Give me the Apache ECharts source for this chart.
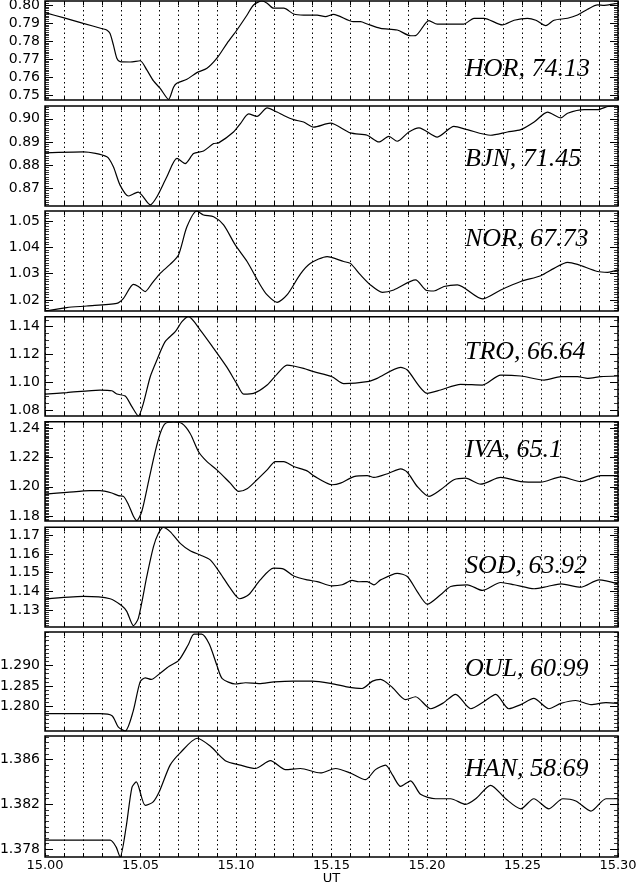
<!DOCTYPE html>
<html><head><meta charset="utf-8">
<script src="https://cdn.jsdelivr.net/npm/echarts@6/dist/echarts.min.js"></script>
<style>html,body{margin:0;padding:0;background:#fff}#c{width:638px;height:883px}</style>
</head><body><div id="c"></div>
<script>
// ---------------- DATA ----------------
const stationNames = ['HOR, 74.13','BJN, 71.45','NOR, 67.73','TRO, 66.64','IVA, 65.1','SOD, 63.92','OUL, 60.99','HAN, 58.69'];

const horT = [15.000,15.010,15.020,15.030,15.0323,15.034,15.0358,15.0376,15.0393,15.0446,15.0498,15.0533,15.0568,15.0603,15.0647,15.0673,15.069,15.0743,15.0795,15.0848,15.090,15.0953,15.1005,15.1058,15.1092,15.1136,15.1163,15.1197,15.125,15.1302,15.1354,15.1425,15.1468,15.151,15.1615,15.1652,15.1687,15.1757,15.1844,15.1914,15.194,15.201,15.2054,15.2193,15.2246,15.2298,15.2395,15.2456,15.2526,15.257,15.2622,15.2665,15.2736,15.2788,15.2841,15.2893,15.2928,15.2979,15.300];
const horV = [0.7957,0.7928,0.7898,0.7868,0.7861,0.7843,0.7778,0.7704,0.7685,0.7683,0.7690,0.7639,0.7578,0.7537,0.7476,0.7543,0.7565,0.7587,0.7624,0.7648,0.7704,0.7787,0.7861,0.7944,0.8000,0.8022,0.8010,0.7982,0.7982,0.7950,0.7944,0.7944,0.7935,0.7948,0.7907,0.7907,0.7894,0.7870,0.7861,0.7829,0.7830,0.7913,0.7893,0.7894,0.7926,0.7926,0.7889,0.7915,0.7926,0.7915,0.7885,0.7915,0.7926,0.7944,0.7976,0.8000,0.7998,0.8006,0.8008];

const bjnT = [15.000,15.0201,15.0324,15.0358,15.0393,15.0437,15.0463,15.0489,15.0507,15.0551,15.0586,15.0638,15.0691,15.0734,15.0778,15.083,15.0883,15.0909,15.0987,15.1023,15.1066,15.111,15.1163,15.1215,15.125,15.1302,15.1354,15.1407,15.1494,15.1599,15.1687,15.1748,15.18,15.1844,15.1905,15.1958,15.2054,15.2141,15.2211,15.2333,15.2421,15.2491,15.2561,15.2631,15.2701,15.2736,15.2823,15.2893,15.2946,15.300];
const bjnV = [0.8853,0.8857,0.8836,0.8793,0.8714,0.8667,0.8676,0.8684,0.8671,0.8629,0.8664,0.8750,0.8829,0.8807,0.8850,0.8861,0.8893,0.8896,0.8943,0.8979,0.9021,0.9010,0.9047,0.9029,0.9014,0.8996,0.8986,0.8964,0.8981,0.8939,0.8929,0.8900,0.8924,0.8903,0.8943,0.8961,0.8921,0.8967,0.8953,0.8929,0.8943,0.8953,0.8986,0.9029,0.9004,0.9024,0.9039,0.9039,0.9053,0.9057];

const norT = [15.000,15.0114,15.0219,15.0376,15.0411,15.0463,15.0489,15.0524,15.056,15.0603,15.0655,15.0699,15.0743,15.0795,15.083,15.0883,15.0935,15.0996,15.1058,15.1127,15.1163,15.1215,15.1267,15.1337,15.139,15.1477,15.1564,15.1599,15.1652,15.1704,15.1766,15.1826,15.194,15.1993,15.2036,15.2089,15.2159,15.229,15.2386,15.2491,15.2596,15.2665,15.2736,15.2788,15.2893,15.2946,15.300];
const norV = [1.0158,1.0171,1.0177,1.0187,1.0206,1.0259,1.0251,1.0232,1.0263,1.0301,1.0335,1.0371,1.0478,1.0538,1.0523,1.0516,1.0485,1.0409,1.0346,1.0257,1.0219,1.0191,1.0219,1.0298,1.0339,1.0365,1.0346,1.0339,1.0295,1.0257,1.0229,1.0238,1.0276,1.0238,1.0234,1.0251,1.0257,1.0204,1.0238,1.0270,1.0292,1.0320,1.0343,1.0335,1.0308,1.0305,1.0314];

const troT = [15.000,15.0114,15.0288,15.035,15.0376,15.042,15.0455,15.0489,15.0515,15.0551,15.0586,15.0629,15.0682,15.0717,15.0751,15.0813,15.0883,15.0953,15.1005,15.104,15.1092,15.1163,15.1215,15.1267,15.1302,15.1354,15.1407,15.1503,15.1564,15.1687,15.1739,15.1862,15.1897,15.2002,15.2071,15.2176,15.229,15.2386,15.2491,15.2613,15.2701,15.2788,15.2841,15.291,15.300];
const troV = [1.0915,1.0925,1.0944,1.0939,1.0915,1.0901,1.0824,1.0757,1.0848,1.1040,1.1160,1.1292,1.1364,1.1436,1.1472,1.1376,1.1244,1.1107,1.0987,1.0915,1.0920,1.0980,1.1059,1.1124,1.1117,1.1100,1.1076,1.1040,1.0990,1.1004,1.1028,1.1107,1.1088,1.0920,1.0944,1.0985,1.0980,1.1052,1.1045,1.1016,1.1040,1.1040,1.1028,1.1040,1.1045];

const ivaT = [15.000,15.0114,15.0236,15.0288,15.035,15.0384,15.0411,15.0437,15.0463,15.0481,15.0507,15.0542,15.0577,15.0603,15.0629,15.0673,15.0717,15.076,15.0804,15.0848,15.090,15.097,15.1014,15.1058,15.111,15.1163,15.1206,15.125,15.1302,15.1372,15.1407,15.1503,15.1547,15.1617,15.1687,15.1722,15.180,15.1862,15.1897,15.1949,15.201,15.2071,15.2141,15.2202,15.2281,15.2386,15.2491,15.2596,15.2701,15.2805,15.291,15.300];
const ivaV = [1.1950,1.1961,1.1973,1.1973,1.1957,1.1939,1.1934,1.1877,1.1798,1.1768,1.1832,1.2036,1.2241,1.2366,1.2434,1.2445,1.2434,1.2366,1.2241,1.2173,1.2116,1.2025,1.1968,1.1986,1.2048,1.2116,1.2173,1.2173,1.2139,1.2109,1.2075,1.2014,1.2025,1.2070,1.2077,1.2064,1.2093,1.2123,1.2100,1.2002,1.1934,1.1980,1.2048,1.2059,1.2018,1.2064,1.2036,1.2032,1.2068,1.2036,1.2077,1.2077];

const sodT = [15.000,15.0201,15.0341,15.0402,15.0428,15.0463,15.0489,15.0533,15.0568,15.0594,15.062,15.0655,15.0708,15.076,15.0813,15.0865,15.0918,15.097,15.1019,15.1066,15.1127,15.1197,15.125,15.1302,15.1372,15.1425,15.1503,15.1556,15.1608,15.1643,15.1687,15.1722,15.1757,15.1844,15.1897,15.1949,15.2002,15.2071,15.2124,15.2211,15.229,15.2386,15.2456,15.2561,15.2631,15.2701,15.2805,15.2901,15.300];
const sodV = [1.1360,1.1374,1.1362,1.1325,1.1295,1.1219,1.1259,1.1480,1.1638,1.1709,1.1741,1.1718,1.1656,1.1617,1.1594,1.1568,1.1497,1.1418,1.1362,1.1383,1.1462,1.1524,1.1519,1.1483,1.1462,1.1453,1.1430,1.1436,1.1459,1.1452,1.1453,1.1436,1.1462,1.1497,1.1480,1.1400,1.1333,1.1383,1.1427,1.1436,1.1406,1.1448,1.1436,1.1415,1.1427,1.1441,1.1423,1.1462,1.1441];

const oulT = [15.000,15.0288,15.0351,15.0383,15.042,15.0461,15.0498,15.0525,15.0556,15.060,15.065,15.070,15.075,15.078,15.082,15.086,15.090,15.0928,15.0996,15.105,15.112,15.120,15.130,15.140,15.150,15.158,15.166,15.1715,15.1757,15.182,15.1888,15.194,15.2019,15.2082,15.215,15.2229,15.2297,15.236,15.2428,15.2491,15.2559,15.2638,15.2701,15.2779,15.2858,15.2937,15.300];
const oulV = [1.2783,1.2783,1.2778,1.2751,1.2741,1.2788,1.2860,1.2870,1.2866,1.2880,1.2898,1.2912,1.2950,1.2976,1.2976,1.2952,1.2900,1.2868,1.2855,1.2858,1.2856,1.2860,1.2862,1.2862,1.2856,1.2848,1.2844,1.2862,1.2866,1.2846,1.2817,1.2824,1.2795,1.2808,1.2830,1.2795,1.2812,1.2830,1.2795,1.2805,1.2820,1.2795,1.2808,1.2815,1.2805,1.2810,1.2808];

const hanT = [15.000,15.0341,15.0372,15.0393,15.0425,15.0455,15.0478,15.0525,15.0565,15.060,15.0655,15.0708,15.0797,15.0865,15.0944,15.1023,15.1101,15.118,15.1259,15.1337,15.1442,15.1521,15.1599,15.1678,15.173,15.1783,15.182,15.1862,15.1914,15.1966,15.2045,15.2124,15.2202,15.2255,15.2333,15.2412,15.2491,15.2559,15.2638,15.2711,15.2779,15.2858,15.2937,15.300];
const hanV = [1.3788,1.3788,1.3782,1.3773,1.3800,1.3835,1.3840,1.3819,1.3822,1.3832,1.3855,1.3866,1.3879,1.3872,1.3859,1.3855,1.3852,1.3859,1.3851,1.3852,1.3848,1.3852,1.3848,1.3842,1.3851,1.3855,1.3846,1.3836,1.3841,1.3829,1.3825,1.3825,1.3820,1.3825,1.3837,1.3825,1.3816,1.3825,1.3816,1.3825,1.3823,1.3814,1.3825,1.3825];

const yMin = [0.7472,0.8624,1.0158,1.0757,1.1765,1.1212,1.2741,1.3773];
const yMax = [0.8022,0.9055,1.0538,1.1472,1.2447,1.1741,1.2981,1.3881];

const yTickLabels = [
  [0.75,0.76,0.77,0.78,0.79,0.80],
  [0.87,0.88,0.89,0.90],
  [1.02,1.03,1.04,1.05],
  [1.08,1.10,1.12,1.14],
  [1.18,1.20,1.22,1.24],
  [1.13,1.14,1.15,1.16,1.17],
  [1.280,1.285,1.290],
  [1.378,1.382,1.386]
];
const xTickLabels = [15.00,15.05,15.10,15.15,15.20,15.25,15.30];

// ---------------- LAYOUT ----------------
const seriesT = [horT,bjnT,norT,troT,ivaT,sodT,oulT,hanT];
const seriesV = [horV,bjnV,norV,troV,ivaV,sodV,oulV,hanV];
const panelTop = [1,106,211,316.7,421.7,527.3,632,736];
const panelBottom = [100,206,311,416,521,627,731,857];
const labelOffset = [55,40,15,22,15,26,24,20];
const minorStep = [0.001,0.001,0.001,0.005,0.001,0.001,0.001,0.0005];
const decimals = [2,2,2,2,2,2,3,3];
const LEFT = 45, RIGHT = 20;

function stepsBetween(lo, hi, step) {
  const out = [];
  const k0 = Math.ceil(lo / step - 1e-9), k1 = Math.floor(hi / step + 1e-9);
  for (let k = k0; k <= k1; k++) out.push(+(k * step).toFixed(6));
  return out;
}
const xMinor = stepsBetween(15.0, 15.3, 0.01);

const grids = [], xAxes = [], yAxes = [], series = [], graphics = [];
const tickFont = {fontFamily: 'DejaVu Sans', fontSize: 14, color: '#000'};

for (let i = 0; i < 8; i++) {
  const last = i === 7;
  grids.push({left: LEFT, right: RIGHT, top: panelTop[i], height: panelBottom[i] - panelTop[i],
    outerBoundsMode: 'none', containLabel: false,
    show: true, borderColor: '#000', borderWidth: 1.5, backgroundColor: 'transparent'});
  xAxes.push({type: 'value', gridIndex: i, min: 15.0, max: 15.3, interval: 0.01, position: 'bottom',
    axisLine: {show: false},
    axisTick: {show: true, inside: true, length: 4, customValues: xMinor, lineStyle: {color: '#000', width: 1}},
    splitLine: {show: true, lineStyle: {color: '#000', width: 1, type: [1.5, 3]}},
    axisLabel: {show: last, customValues: xTickLabels, formatter: v => v.toFixed(2), margin: 2, ...tickFont, fontSize: 13},
    name: last ? 'UT' : '', nameLocation: 'middle', nameGap: 15, nameMoveOverlap: false,
    nameTextStyle: {fontFamily: 'DejaVu Sans', fontSize: 13, color: '#000', verticalAlign: 'top'}
  });
  xAxes.push({type: 'value', gridIndex: i, min: 15.0, max: 15.3, interval: 0.01, position: 'top',
    axisLine: {show: false}, splitLine: {show: false}, axisLabel: {show: false},
    axisTick: {show: true, inside: true, length: 4, customValues: xMinor, lineStyle: {color: '#000', width: 1}}
  });
  const majors = yTickLabels[i];
  const minors = stepsBetween(yMin[i], yMax[i], minorStep[i]);
  const base = {type: 'value', gridIndex: i, min: yMin[i], max: yMax[i], axisLine: {show: false}, splitLine: {show: false}};
  const yIdx = yAxes.length;
  yAxes.push({...base, position: 'left',
    axisTick: {show: true, inside: true, length: 8, customValues: majors, lineStyle: {color: '#000', width: 1}},
    axisLabel: {show: true, customValues: majors, formatter: v => v.toFixed(decimals[i]), margin: 5, ...tickFont}});
  yAxes.push({...base, position: 'left',
    axisTick: {show: true, inside: true, length: 4, customValues: minors, lineStyle: {color: '#000', width: 0.8}},
    axisLabel: {show: false}});
  yAxes.push({...base, position: 'right',
    axisTick: {show: true, inside: true, length: 8, customValues: majors, lineStyle: {color: '#000', width: 1}},
    axisLabel: {show: false}});
  yAxes.push({...base, position: 'right',
    axisTick: {show: true, inside: true, length: 4, customValues: minors, lineStyle: {color: '#000', width: 0.8}},
    axisLabel: {show: false}});

  series.push({type: 'line', xAxisIndex: 2 * i, yAxisIndex: yIdx,
    data: seriesT[i].map((t, k) => [t, seriesV[i][k]]),
    showSymbol: false, smooth: 0.25, clip: true,
    lineStyle: {color: '#000', width: 1.2}, z: 5});

  graphics.push({type: 'text', left: 465, top: panelTop[i] + labelOffset[i], z: 10,
    style: {text: stationNames[i], font: 'italic 26px "Liberation Serif"', fill: '#000'}});
}

const chart = echarts.init(document.getElementById('c'), null, {renderer: 'canvas'});
chart.setOption({animation: false, backgroundColor: '#fff',
  grid: grids, xAxis: xAxes, yAxis: yAxes, series: series, graphic: graphics});
</script></body></html>
